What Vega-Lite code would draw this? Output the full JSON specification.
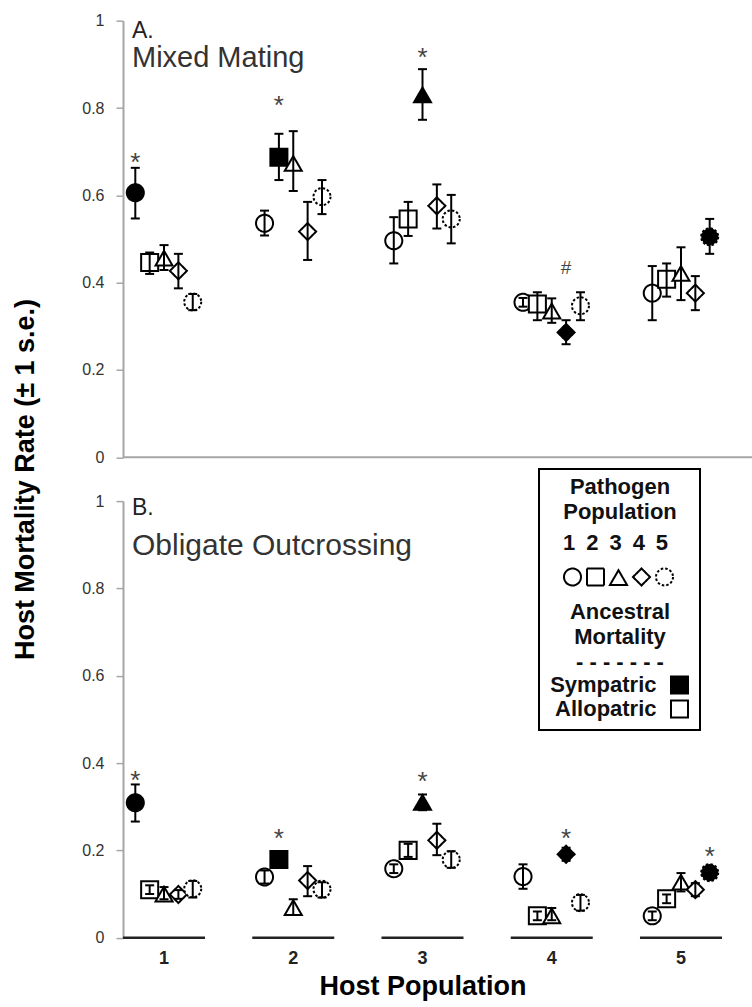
{
  "$schema": "https://vega.github.io/schema/vega-lite/v6.json",
  "background": "white",
  "padding": {"left": 10, "top": 12.7, "right": 0, "bottom": 6},
  "bounds": "flush",
  "spacing": 43.4,
  "config": {
    "font": "Liberation Sans",
    "view": {"stroke": null},
    "axis": {"grid": false},
    "legend": {"strokeWidth": 2},
    "title": {"font": "Liberation Sans", "subtitleFont": "Liberation Sans"}
  },
  "resolve": {"scale": {"shape": "shared", "fill": "shared", "strokeDash": "shared"}},
  "datasets": {
    "pts": [
      {"panel":"A","host":1,"pathogen":1,"match":"Sympatric","rate":0.606,"lo":0.547,"hi":0.663},
      {"panel":"A","host":1,"pathogen":2,"match":"Allopatric","rate":0.446,"lo":0.420,"hi":0.469},
      {"panel":"A","host":1,"pathogen":3,"match":"Allopatric","rate":0.456,"lo":0.429,"hi":0.486},
      {"panel":"A","host":1,"pathogen":4,"match":"Allopatric","rate":0.427,"lo":0.387,"hi":0.466},
      {"panel":"A","host":1,"pathogen":5,"match":"Allopatric","rate":0.356,"lo":0.337,"hi":0.374},
      {"panel":"A","host":2,"pathogen":1,"match":"Allopatric","rate":0.536,"lo":0.508,"hi":0.565},
      {"panel":"A","host":2,"pathogen":2,"match":"Sympatric","rate":0.687,"lo":0.635,"hi":0.741},
      {"panel":"A","host":2,"pathogen":3,"match":"Allopatric","rate":0.673,"lo":0.610,"hi":0.747},
      {"panel":"A","host":2,"pathogen":4,"match":"Allopatric","rate":0.517,"lo":0.452,"hi":0.585},
      {"panel":"A","host":2,"pathogen":5,"match":"Allopatric","rate":0.597,"lo":0.557,"hi":0.635},
      {"panel":"A","host":3,"pathogen":1,"match":"Allopatric","rate":0.496,"lo":0.444,"hi":0.550},
      {"panel":"A","host":3,"pathogen":2,"match":"Allopatric","rate":0.546,"lo":0.507,"hi":0.585},
      {"panel":"A","host":3,"pathogen":3,"match":"Sympatric","rate":0.830,"lo":0.773,"hi":0.889},
      {"panel":"A","host":3,"pathogen":4,"match":"Allopatric","rate":0.576,"lo":0.524,"hi":0.625},
      {"panel":"A","host":3,"pathogen":5,"match":"Allopatric","rate":0.546,"lo":0.490,"hi":0.601},
      {"panel":"A","host":4,"pathogen":1,"match":"Allopatric","rate":0.355,"lo":0.345,"hi":0.365},
      {"panel":"A","host":4,"pathogen":2,"match":"Allopatric","rate":0.351,"lo":0.314,"hi":0.378},
      {"panel":"A","host":4,"pathogen":3,"match":"Allopatric","rate":0.335,"lo":0.308,"hi":0.364},
      {"panel":"A","host":4,"pathogen":4,"match":"Sympatric","rate":0.286,"lo":0.259,"hi":0.314},
      {"panel":"A","host":4,"pathogen":5,"match":"Allopatric","rate":0.347,"lo":0.314,"hi":0.378},
      {"panel":"A","host":5,"pathogen":1,"match":"Allopatric","rate":0.376,"lo":0.314,"hi":0.438},
      {"panel":"A","host":5,"pathogen":2,"match":"Allopatric","rate":0.408,"lo":0.368,"hi":0.444},
      {"panel":"A","host":5,"pathogen":3,"match":"Allopatric","rate":0.421,"lo":0.360,"hi":0.481},
      {"panel":"A","host":5,"pathogen":4,"match":"Allopatric","rate":0.376,"lo":0.337,"hi":0.415},
      {"panel":"A","host":5,"pathogen":5,"match":"Sympatric","rate":0.505,"lo":0.466,"hi":0.546},
      {"panel":"B","host":1,"pathogen":1,"match":"Sympatric","rate":0.309,"lo":0.266,"hi":0.351},
      {"panel":"B","host":1,"pathogen":2,"match":"Allopatric","rate":0.110,"lo":0.100,"hi":0.120},
      {"panel":"B","host":1,"pathogen":3,"match":"Allopatric","rate":0.100,"lo":0.088,"hi":0.116},
      {"panel":"B","host":1,"pathogen":4,"match":"Allopatric","rate":0.099,"lo":0.089,"hi":0.109},
      {"panel":"B","host":1,"pathogen":5,"match":"Allopatric","rate":0.112,"lo":0.092,"hi":0.130},
      {"panel":"B","host":2,"pathogen":1,"match":"Allopatric","rate":0.139,"lo":0.124,"hi":0.154},
      {"panel":"B","host":2,"pathogen":2,"match":"Sympatric","rate":0.179,"lo":0.169,"hi":0.189},
      {"panel":"B","host":2,"pathogen":3,"match":"Allopatric","rate":0.069,"lo":0.052,"hi":0.088},
      {"panel":"B","host":2,"pathogen":4,"match":"Allopatric","rate":0.131,"lo":0.095,"hi":0.164},
      {"panel":"B","host":2,"pathogen":5,"match":"Allopatric","rate":0.111,"lo":0.092,"hi":0.127},
      {"panel":"B","host":3,"pathogen":1,"match":"Allopatric","rate":0.158,"lo":0.148,"hi":0.168},
      {"panel":"B","host":3,"pathogen":2,"match":"Allopatric","rate":0.200,"lo":0.185,"hi":0.215},
      {"panel":"B","host":3,"pathogen":3,"match":"Sympatric","rate":0.310,"lo":0.292,"hi":0.328},
      {"panel":"B","host":3,"pathogen":4,"match":"Allopatric","rate":0.223,"lo":0.189,"hi":0.261},
      {"panel":"B","host":3,"pathogen":5,"match":"Allopatric","rate":0.179,"lo":0.160,"hi":0.198},
      {"panel":"B","host":4,"pathogen":1,"match":"Allopatric","rate":0.140,"lo":0.112,"hi":0.168},
      {"panel":"B","host":4,"pathogen":2,"match":"Allopatric","rate":0.050,"lo":0.040,"hi":0.060},
      {"panel":"B","host":4,"pathogen":3,"match":"Allopatric","rate":0.050,"lo":0.040,"hi":0.068},
      {"panel":"B","host":4,"pathogen":4,"match":"Sympatric","rate":0.191,"lo":0.176,"hi":0.206},
      {"panel":"B","host":4,"pathogen":5,"match":"Allopatric","rate":0.080,"lo":0.062,"hi":0.098},
      {"panel":"B","host":5,"pathogen":1,"match":"Allopatric","rate":0.050,"lo":0.040,"hi":0.060},
      {"panel":"B","host":5,"pathogen":2,"match":"Allopatric","rate":0.089,"lo":0.079,"hi":0.099},
      {"panel":"B","host":5,"pathogen":3,"match":"Allopatric","rate":0.127,"lo":0.106,"hi":0.148},
      {"panel":"B","host":5,"pathogen":4,"match":"Allopatric","rate":0.110,"lo":0.095,"hi":0.125},
      {"panel":"B","host":5,"pathogen":5,"match":"Sympatric","rate":0.149,"lo":0.137,"hi":0.161}
    ],
    "ann": [
      {"panel":"A","host":1,"pathogen":1,"sig":"*","sig_y":0.69},
      {"panel":"A","host":2,"pathogen":2,"sig":"*","sig_y":0.82},
      {"panel":"A","host":3,"pathogen":3,"sig":"*","sig_y":0.931},
      {"panel":"A","host":4,"pathogen":4,"sig":"#","sig_y":0.437},
      {"panel":"B","host":1,"pathogen":1,"sig":"*","sig_y":0.374},
      {"panel":"B","host":2,"pathogen":2,"sig":"*","sig_y":0.242},
      {"panel":"B","host":3,"pathogen":3,"sig":"*","sig_y":0.372},
      {"panel":"B","host":4,"pathogen":4,"sig":"*","sig_y":0.242},
      {"panel":"B","host":5,"pathogen":5,"sig":"*","sig_y":0.20}
    ],
    "hosts": [{"host":1},{"host":2},{"host":3},{"host":4},{"host":5}]
  },
  "vconcat": [
    {
      "width": 631,
      "height": 436.6,
      "title": {"text": "A.", "subtitle": "Mixed Mating", "anchor": "start", "orient": "top", "frame": "group", "offset": -60, "dx": 9, "fontSize": 23, "fontWeight": "normal", "color": "#222", "subtitleFontSize": 29, "subtitleColor": "#333", "subtitlePadding": 1},
      "layer": [
        {
          "data": {"name": "pts"},
          "transform": [{"filter": "datum.panel === 'A'"}],
          "mark": {"type": "point", "filled": true, "size": 290, "stroke": "black", "strokeWidth": 2, "opacity": 1},
          "encoding": {
            "x": {"field": "host", "type": "nominal", "scale": {"domain": [1,2,3,4,5], "range": [-23.6, 622.6], "paddingInner": 0, "paddingOuter": 0}, "axis": null},
            "xOffset": {"field": "pathogen", "type": "nominal", "scale": {"domain": [-1,0,1,2,3,4,5,6,7], "paddingInner": 0, "paddingOuter": 0}},
            "y": {"field": "rate", "type": "quantitative", "scale": {"domain": [0, 1], "nice": false},
              "axis": {"values": [0, 0.2, 0.4, 0.6, 0.8, 1], "format": "~g", "labelFlush": false, "labelOverlap": false, "domainColor": "#a6a6a6", "domainWidth": 2, "tickColor": "#a6a6a6", "tickWidth": 1.5, "tickSize": 7, "labelFontSize": 16, "labelColor": "#333", "labelPadding": 12,
                "title": "Host Mortality Rate (± 1 s.e.)", "titleFontSize": 27, "titleFontWeight": "bold", "titleColor": "black", "titleX": -90, "titleY": 458.3, "titleAngle": 270, "titleAlign": "center", "titleBaseline": "alphabetic"}},
            "shape": {"field": "pathogen", "type": "nominal", "scale": {"domain": [1,2,3,4,5], "range": ["circle","square","triangle-up","diamond","circle"]},
              "legend": {"orient": "none", "legendX": 440, "legendY": 512.3, "title": "1\u20022\u20023\u20024\u20025", "titleFontSize": 22, "titleFontWeight": "bold", "titleColor": "#111", "titleAlign": "left", "titleAnchor": "start", "titlePadding": 12.5, "direction": "horizontal", "columns": 5, "symbolSize": 289, "symbolStrokeWidth": 2, "symbolStrokeColor": "black", "symbolFillColor": "white", "labelExpr": "''", "labelFontSize": 1, "labelOffset": 0, "columnPadding": -2, "padding": 0, "zindex": 2}},
            "strokeDash": {"field": "pathogen", "type": "nominal", "scale": {"domain": [1,2,3,4,5], "range": [[1,0],[1,0],[1,0],[1,0],[2.5,2]]},
              "legend": {"orient": "none", "legendX": 440, "legendY": 512.3, "title": "1\u20022\u20023\u20024\u20025", "titleFontSize": 22, "titleFontWeight": "bold", "titleColor": "#111", "titleAlign": "left", "titleAnchor": "start", "titlePadding": 12.5, "direction": "horizontal", "columns": 5, "symbolSize": 289, "symbolStrokeWidth": 2, "symbolStrokeColor": "black", "symbolFillColor": "white", "labelExpr": "''", "labelFontSize": 1, "labelOffset": 0, "columnPadding": -2, "padding": 0, "zindex": 2}},
            "fill": {"field": "match", "type": "nominal", "scale": {"domain": ["Sympatric", "Allopatric"], "range": ["black", "white"]},
              "legend": {"orient": "none", "legendX": 416, "legendY": 448.3, "title": ["Pathogen", "Population", "\u200b", "\u200b", "\u200b", "Ancestral", "Mortality", "- - - - - - -"], "titleFontSize": 22, "titleFontWeight": "bold", "titleColor": "#111", "titleLineHeight": 25, "titleAlign": "center", "titleAnchor": "middle", "titlePadding": 0, "titleLimit": 300, "labelFontSize": 22, "labelFontWeight": "bold", "labelColor": "#111", "labelAlign": "right", "labelOffset": -34, "labelLimit": 300, "symbolOffset": 121.5, "symbolType": "square", "symbolSize": 289, "symbolStrokeColor": "black", "symbolStrokeWidth": 2, "rowPadding": -2, "padding": 8, "strokeColor": "black", "zindex": 1}}
          }
        },
        {
          "data": {"values": [{}]},
          "mark": {"type": "rule", "color": "#a6a6a6", "strokeWidth": 2},
          "encoding": {"y": {"datum": 0, "type": "quantitative", "scale": {"domain": [0, 1], "nice": false}}}
        },
        {
          "data": {"name": "pts"},
          "transform": [{"filter": "datum.panel === 'A'"}],
          "mark": {"type": "rule", "color": "black", "strokeWidth": 2},
          "encoding": {
            "x": {"field": "host", "type": "nominal", "scale": {"domain": [1,2,3,4,5], "range": [-23.6, 622.6], "paddingInner": 0, "paddingOuter": 0}, "axis": null},
            "xOffset": {"field": "pathogen", "type": "nominal", "scale": {"domain": [-1,0,1,2,3,4,5,6,7], "paddingInner": 0, "paddingOuter": 0}},
            "y": {"field": "lo", "type": "quantitative", "scale": {"domain": [0, 1], "nice": false}},
            "y2": {"field": "hi"}
          }
        },
        {
          "data": {"name": "pts"},
          "transform": [{"filter": "datum.panel === 'A'"}],
          "mark": {"type": "tick", "orient": "horizontal", "size": 9, "thickness": 2, "color": "black", "opacity": 1},
          "encoding": {
            "x": {"field": "host", "type": "nominal", "scale": {"domain": [1,2,3,4,5], "range": [-23.6, 622.6], "paddingInner": 0, "paddingOuter": 0}, "axis": null},
            "xOffset": {"field": "pathogen", "type": "nominal", "scale": {"domain": [-1,0,1,2,3,4,5,6,7], "paddingInner": 0, "paddingOuter": 0}},
            "y": {"field": "lo", "type": "quantitative", "scale": {"domain": [0, 1], "nice": false}}
          }
        },
        {
          "data": {"name": "pts"},
          "transform": [{"filter": "datum.panel === 'A'"}],
          "mark": {"type": "tick", "orient": "horizontal", "size": 9, "thickness": 2, "color": "black", "opacity": 1},
          "encoding": {
            "x": {"field": "host", "type": "nominal", "scale": {"domain": [1,2,3,4,5], "range": [-23.6, 622.6], "paddingInner": 0, "paddingOuter": 0}, "axis": null},
            "xOffset": {"field": "pathogen", "type": "nominal", "scale": {"domain": [-1,0,1,2,3,4,5,6,7], "paddingInner": 0, "paddingOuter": 0}},
            "y": {"field": "hi", "type": "quantitative", "scale": {"domain": [0, 1], "nice": false}}
          }
        },
        {
          "data": {"name": "ann"},
          "transform": [{"filter": "datum.panel === 'A' && datum.sig === '*'"}],
          "mark": {"type": "text", "fontSize": 26, "color": "#444", "baseline": "middle", "dy": 7},
          "encoding": {
            "x": {"field": "host", "type": "nominal", "scale": {"domain": [1,2,3,4,5], "range": [-23.6, 622.6], "paddingInner": 0, "paddingOuter": 0}, "axis": null},
            "xOffset": {"field": "pathogen", "type": "nominal", "scale": {"domain": [-1,0,1,2,3,4,5,6,7], "paddingInner": 0, "paddingOuter": 0}},
            "y": {"field": "sig_y", "type": "quantitative", "scale": {"domain": [0, 1], "nice": false}},
            "text": {"field": "sig"}
          }
        },
        {
          "data": {"name": "ann"},
          "transform": [{"filter": "datum.panel === 'A' && datum.sig === '#'"}],
          "mark": {"type": "text", "fontSize": 19, "color": "#444", "baseline": "middle", "dy": 1},
          "encoding": {
            "x": {"field": "host", "type": "nominal", "scale": {"domain": [1,2,3,4,5], "range": [-23.6, 622.6], "paddingInner": 0, "paddingOuter": 0}, "axis": null},
            "xOffset": {"field": "pathogen", "type": "nominal", "scale": {"domain": [-1,0,1,2,3,4,5,6,7], "paddingInner": 0, "paddingOuter": 0}},
            "y": {"field": "sig_y", "type": "quantitative", "scale": {"domain": [0, 1], "nice": false}},
            "text": {"field": "sig"}
          }
        }
      ]
    },
    {
      "width": 631,
      "height": 436.6,
      "title": {"text": "B.", "subtitle": "Obligate Outcrossing", "anchor": "start", "orient": "top", "frame": "group", "offset": -68, "dx": 9, "fontSize": 23, "fontWeight": "normal", "color": "#222", "subtitleFontSize": 30, "subtitleColor": "#333", "subtitlePadding": 11},
      "layer": [
        {
          "data": {"name": "pts"},
          "transform": [{"filter": "datum.panel === 'B'"}],
          "mark": {"type": "point", "filled": true, "size": 290, "stroke": "black", "strokeWidth": 2, "opacity": 1},
          "encoding": {
            "x": {"field": "host", "type": "nominal", "scale": {"domain": [1,2,3,4,5], "range": [-23.6, 622.6], "paddingInner": 0, "paddingOuter": 0},
              "axis": {"title": "Host Population", "labelFontSize": 18, "labelFontWeight": "bold", "labelColor": "#222", "labelPadding": 12, "labelAngle": 0, "domain": false, "ticks": false, "titleFontSize": 27, "titleFontWeight": "bold", "titleColor": "black", "titlePadding": 6}},
            "xOffset": {"field": "pathogen", "type": "nominal", "scale": {"domain": [-1,0,1,2,3,4,5,6,7], "paddingInner": 0, "paddingOuter": 0}},
            "y": {"field": "rate", "type": "quantitative", "scale": {"domain": [0, 1], "nice": false},
              "axis": {"values": [0, 0.2, 0.4, 0.6, 0.8, 1], "format": "~g", "labelFlush": false, "labelOverlap": false, "domainColor": "#a6a6a6", "domainWidth": 2, "tickColor": "#a6a6a6", "tickWidth": 1.5, "tickSize": 7, "labelFontSize": 16, "labelColor": "#333", "labelPadding": 12, "title": null}},
            "shape": {"field": "pathogen", "type": "nominal", "scale": {"domain": [1,2,3,4,5], "range": ["circle","square","triangle-up","diamond","circle"]},
              "legend": {"orient": "none", "legendX": 440, "legendY": 512.3, "title": "1\u20022\u20023\u20024\u20025", "titleFontSize": 22, "titleFontWeight": "bold", "titleColor": "#111", "titleAlign": "left", "titleAnchor": "start", "titlePadding": 12.5, "direction": "horizontal", "columns": 5, "symbolSize": 289, "symbolStrokeWidth": 2, "symbolStrokeColor": "black", "symbolFillColor": "white", "labelExpr": "''", "labelFontSize": 1, "labelOffset": 0, "columnPadding": -2, "padding": 0, "zindex": 2}},
            "strokeDash": {"field": "pathogen", "type": "nominal", "scale": {"domain": [1,2,3,4,5], "range": [[1,0],[1,0],[1,0],[1,0],[2.5,2]]},
              "legend": {"orient": "none", "legendX": 440, "legendY": 512.3, "title": "1\u20022\u20023\u20024\u20025", "titleFontSize": 22, "titleFontWeight": "bold", "titleColor": "#111", "titleAlign": "left", "titleAnchor": "start", "titlePadding": 12.5, "direction": "horizontal", "columns": 5, "symbolSize": 289, "symbolStrokeWidth": 2, "symbolStrokeColor": "black", "symbolFillColor": "white", "labelExpr": "''", "labelFontSize": 1, "labelOffset": 0, "columnPadding": -2, "padding": 0, "zindex": 2}},
            "fill": {"field": "match", "type": "nominal", "scale": {"domain": ["Sympatric", "Allopatric"], "range": ["black", "white"]},
              "legend": {"orient": "none", "legendX": 416, "legendY": 448.3, "title": ["Pathogen", "Population", "\u200b", "\u200b", "\u200b", "Ancestral", "Mortality", "- - - - - - -"], "titleFontSize": 22, "titleFontWeight": "bold", "titleColor": "#111", "titleLineHeight": 25, "titleAlign": "center", "titleAnchor": "middle", "titlePadding": 0, "titleLimit": 300, "labelFontSize": 22, "labelFontWeight": "bold", "labelColor": "#111", "labelAlign": "right", "labelOffset": -34, "labelLimit": 300, "symbolOffset": 121.5, "symbolType": "square", "symbolSize": 289, "symbolStrokeColor": "black", "symbolStrokeWidth": 2, "rowPadding": -2, "padding": 8, "strokeColor": "black", "zindex": 1}}
          }
        },
        {
          "data": {"name": "hosts"},
          "mark": {"type": "tick", "orient": "horizontal", "size": 82, "thickness": 2.5, "color": "#222", "opacity": 1},
          "encoding": {
            "x": {"field": "host", "type": "nominal", "scale": {"domain": [1,2,3,4,5], "range": [-23.6, 622.6], "paddingInner": 0, "paddingOuter": 0}},
            "y": {"datum": 0, "type": "quantitative", "scale": {"domain": [0, 1], "nice": false}}
          }
        },
        {
          "data": {"name": "pts"},
          "transform": [{"filter": "datum.panel === 'B'"}],
          "mark": {"type": "rule", "color": "black", "strokeWidth": 2},
          "encoding": {
            "x": {"field": "host", "type": "nominal", "scale": {"domain": [1,2,3,4,5], "range": [-23.6, 622.6], "paddingInner": 0, "paddingOuter": 0}},
            "xOffset": {"field": "pathogen", "type": "nominal", "scale": {"domain": [-1,0,1,2,3,4,5,6,7], "paddingInner": 0, "paddingOuter": 0}},
            "y": {"field": "lo", "type": "quantitative", "scale": {"domain": [0, 1], "nice": false}},
            "y2": {"field": "hi"}
          }
        },
        {
          "data": {"name": "pts"},
          "transform": [{"filter": "datum.panel === 'B'"}],
          "mark": {"type": "tick", "orient": "horizontal", "size": 9, "thickness": 2, "color": "black", "opacity": 1},
          "encoding": {
            "x": {"field": "host", "type": "nominal", "scale": {"domain": [1,2,3,4,5], "range": [-23.6, 622.6], "paddingInner": 0, "paddingOuter": 0}},
            "xOffset": {"field": "pathogen", "type": "nominal", "scale": {"domain": [-1,0,1,2,3,4,5,6,7], "paddingInner": 0, "paddingOuter": 0}},
            "y": {"field": "lo", "type": "quantitative", "scale": {"domain": [0, 1], "nice": false}}
          }
        },
        {
          "data": {"name": "pts"},
          "transform": [{"filter": "datum.panel === 'B'"}],
          "mark": {"type": "tick", "orient": "horizontal", "size": 9, "thickness": 2, "color": "black", "opacity": 1},
          "encoding": {
            "x": {"field": "host", "type": "nominal", "scale": {"domain": [1,2,3,4,5], "range": [-23.6, 622.6], "paddingInner": 0, "paddingOuter": 0}},
            "xOffset": {"field": "pathogen", "type": "nominal", "scale": {"domain": [-1,0,1,2,3,4,5,6,7], "paddingInner": 0, "paddingOuter": 0}},
            "y": {"field": "hi", "type": "quantitative", "scale": {"domain": [0, 1], "nice": false}}
          }
        },
        {
          "data": {"name": "ann"},
          "transform": [{"filter": "datum.panel === 'B' && datum.sig === '*'"}],
          "mark": {"type": "text", "fontSize": 26, "color": "#444", "baseline": "middle", "dy": 7},
          "encoding": {
            "x": {"field": "host", "type": "nominal", "scale": {"domain": [1,2,3,4,5], "range": [-23.6, 622.6], "paddingInner": 0, "paddingOuter": 0}},
            "xOffset": {"field": "pathogen", "type": "nominal", "scale": {"domain": [-1,0,1,2,3,4,5,6,7], "paddingInner": 0, "paddingOuter": 0}},
            "y": {"field": "sig_y", "type": "quantitative", "scale": {"domain": [0, 1], "nice": false}},
            "text": {"field": "sig"}
          }
        }
      ]
    }
  ]
}
